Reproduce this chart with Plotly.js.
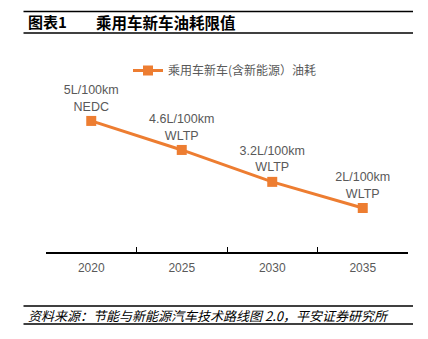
<!DOCTYPE html>
<html>
<head>
<meta charset="utf-8">
<script src="https://cdn.plot.ly/plotly-3.0.1.min.js"></script>
<style>
html,body{margin:0;padding:0;background:#fff;}
#chart{width:428px;height:339px;}
</style>
</head>
<body>
<div id="chart"></div>
<script>
// Data
var years = ['2020', '2025', '2030', '2035'];
var plotValues = [5, 4, 2.9, 2];           // vertical positions
var limitLabels = ['5L/100km', '4.6L/100km', '3.2L/100km', '2L/100km'];
var testCycles = ['NEDC', 'WLTP', 'WLTP', 'WLTP'];
var seriesName = '乘用车新车(含新能源）油耗';
var chartTitleNo = '图表1';
var chartTitle = '乘用车新车油耗限值';
var sourceText = '资料来源：节能与新能源汽车技术路线图 2.0，平安证券研究所';

var orange = '#ED7D31';
var labels = limitLabels.map(function(l, i){ return l + '<br>' + testCycles[i]; });

var trace = {
  x: years,
  y: plotValues,
  name: seriesName,
  type: 'scatter',
  mode: 'lines+markers+text',
  line: {color: orange, width: 3},
  marker: {symbol: 'square', size: 10, color: orange},
  text: labels,
  textposition: 'top center',
  textfont: {family: 'Liberation Sans, Arial, sans-serif', size: 12.5, color: '#595959'},
  cliponaxis: false
};

var W = 428, H = 339, mL = 46, mR = 20, mT = 60, mB = 87;
var ph = H - mT - mB, pw = W - mL - mR;
function py(pix){ return (H - mB - pix) / ph; }
function px(pix){ return (pix - mL) / pw; }

var shapes = [11.5, 33, 306, 324].map(function(yy){
  return {type:'line', xref:'paper', yref:'paper', x0:px(23.5), x1:px(413), y0:py(yy), y1:py(yy),
          line:{color:'#000', width:1.5}};
});

var layout = {
  width: W, height: H,
  margin: {l: mL, r: mR, t: mT, b: mB},
  paper_bgcolor: '#fff', plot_bgcolor: '#fff',
  showlegend: true,
  legend: {orientation: 'h', x: px(128), xanchor: 'left', y: py(56), yanchor: 'top',
           font: {family: 'Noto Sans CJK SC, sans-serif', size: 12, color: '#595959'},
           bgcolor: 'rgba(0,0,0,0)'},
  xaxis: {
    type: 'category',
    showline: true, linecolor: '#000', linewidth: 1.5,
    ticks: 'inside', ticklen: 5, tickcolor: '#000', tickwidth: 1,
    tickson: 'boundaries',
    ticklabelstandoff: 4,
    showgrid: false, zeroline: false,
    tickfont: {family: 'Liberation Sans, Arial, sans-serif', size: 12, color: '#595959'},
    range: [-0.5, 3.5]
  },
  yaxis: {
    visible: false, showgrid: false, zeroline: false,
    range: [0.483, 7.10]
  },
  shapes: shapes,
  annotations: [
    {xref:'paper', yref:'paper', xanchor:'left', yanchor:'middle', showarrow:false,
     x: px(26), y: py(22), text: '<b>' + chartTitleNo + '</b>',
     font:{family:'Noto Sans CJK SC, sans-serif', size:15, color:'#000'}},
    {xref:'paper', yref:'paper', xanchor:'left', yanchor:'middle', showarrow:false,
     x: px(94), y: py(22), text: '<b>' + chartTitle + '</b>',
     font:{family:'Noto Sans CJK SC, sans-serif', size:15.5, color:'#000'}},
    {xref:'paper', yref:'paper', xanchor:'left', yanchor:'middle', showarrow:false,
     x: px(26), y: py(315.5), text: '<i>' + sourceText + '</i>',
     font:{family:'Noto Sans CJK SC, sans-serif', size:13, color:'#000'}}
  ]
};

Plotly.newPlot('chart', [trace], layout, {displayModeBar:false, staticPlot:true});
</script>
</body>
</html>
